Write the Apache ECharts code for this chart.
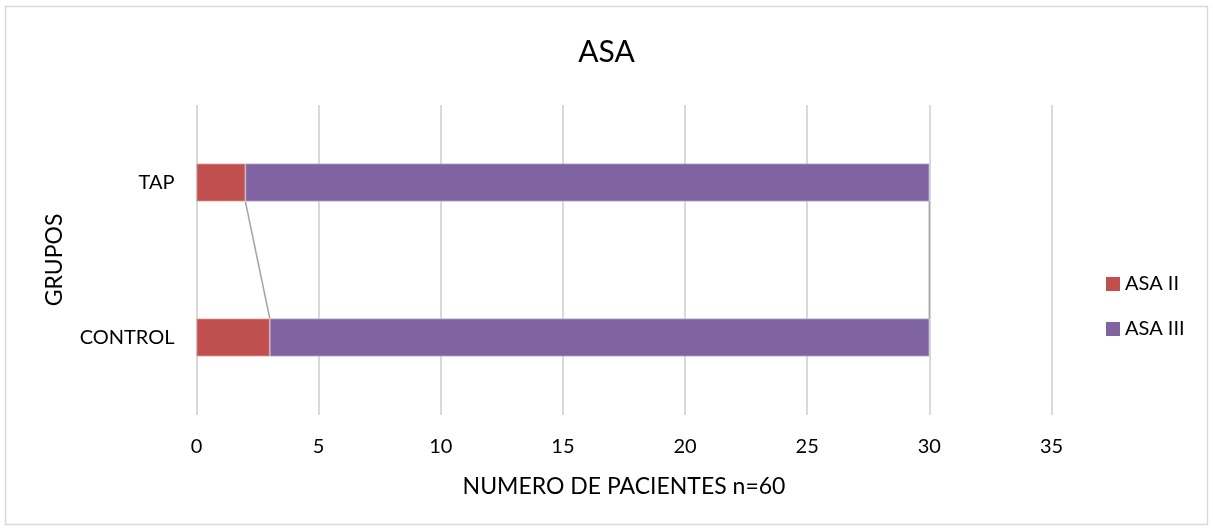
<!DOCTYPE html>
<html>
<head>
<meta charset="utf-8">
<script src="https://cdn.jsdelivr.net/npm/echarts@6/dist/echarts.min.js"></script>
<style>
  html, body { margin: 0; padding: 0; background: #fff; }
  #chart { width: 1213px; height: 531px; }
</style>
</head>
<body>
<div id="chart"></div>
<script>
// Groups on the vertical axis (bottom to top)
const categories = ['CONTROL', 'TAP'];
// Patient counts per ASA class
const asaII = [3, 2];
const asaIII = [27, 28];
const seriesNames = ['ASA II', 'ASA III'];
const xTicks = { min: 0, max: 35, interval: 5 };

const FONT = 'Lato';
const BAR_W = 38;
const COLORS = ['#C0504D', '#8064A2'];

// Cumulative ends of each stacked segment, for the connector lines
const stackEnds = [
  asaII.slice(),
  asaII.map((v, i) => v + asaIII[i])
];

const chart = echarts.init(document.getElementById('chart'));

chart.setOption({
  animation: false,
  backgroundColor: '#fff',
  title: {
    text: 'ASA',
    left: 'center',
    top: 37,
    padding: 0,
    textStyle: { fontFamily: FONT, fontSize: 30, fontWeight: 'normal', color: '#000' }
  },
  legend: {
    orient: 'vertical',
    left: 1106,
    top: 274,
    padding: 0,
    itemWidth: 14,
    itemHeight: 14,
    itemGap: 25,
    icon: 'rect',
    itemStyle: { borderWidth: 0 },
    data: seriesNames,
    textStyle: { fontFamily: FONT, fontSize: 20, color: '#000' }
  },
  grid: { left: 196.5, right: 161.5, top: 105, height: 310, containLabel: false },
  xAxis: {
    type: 'value',
    min: xTicks.min,
    max: xTicks.max,
    interval: xTicks.interval,
    name: 'NUMERO DE PACIENTES n=60',
    nameLocation: 'middle',
    nameGap: 60,
    nameTextStyle: { fontFamily: FONT, fontSize: 23, color: '#000' },
    axisLine: { show: false },
    axisTick: { show: false },
    axisLabel: { fontFamily: FONT, fontSize: 20, color: '#000', margin: 22 },
    splitLine: { show: true, lineStyle: { color: '#d9d9d9', width: 2 } }
  },
  yAxis: {
    type: 'category',
    data: categories,
    name: 'GRUPOS',
    nameLocation: 'middle',
    nameGap: 130,
    nameRotate: 90,
    nameTextStyle: { fontFamily: FONT, fontSize: 23, color: '#000' },
    axisLine: { show: false },
    axisTick: { show: false },
    axisLabel: { fontFamily: FONT, fontSize: 20, color: '#000', margin: 22 },
    splitLine: { show: false }
  },
  series: [
    {
      name: seriesNames[0],
      type: 'bar',
      stack: 'asa',
      barWidth: BAR_W,
      data: asaII,
      itemStyle: { color: COLORS[0], borderColor: '#e3a9a7', borderWidth: 0.8 },
      z: 3
    },
    {
      name: seriesNames[1],
      type: 'bar',
      stack: 'asa',
      barWidth: BAR_W,
      data: asaIII,
      itemStyle: { color: COLORS[1], borderColor: '#b9a9cf', borderWidth: 0.8 },
      z: 3
    },
    {
      // Series lines joining the ends of each segment between the two bars
      type: 'custom',
      name: 'series-lines',
      coordinateSystem: 'cartesian2d',
      silent: true,
      z: 2,
      data: stackEnds.map(ends => [ends[0], ends[1]]),
      renderItem: function (params, api) {
        const lower = api.coord([api.value(0), 0]);
        const upper = api.coord([api.value(1), 1]);
        return {
          type: 'line',
          shape: {
            x1: lower[0], y1: lower[1] - BAR_W / 2,
            x2: upper[0], y2: upper[1] + BAR_W / 2
          },
          style: { stroke: '#a5a5a5', lineWidth: 1.5 }
        };
      },
      encode: { x: [0, 1] }
    }
  ],
  graphic: [
    {
      type: 'rect',
      shape: { x: 5.5, y: 6.5, width: 1202, height: 518 },
      style: { fill: null, stroke: '#d9d9d9', lineWidth: 1.5 },
      silent: true
    }
  ]
});
</script>
</body>
</html>
